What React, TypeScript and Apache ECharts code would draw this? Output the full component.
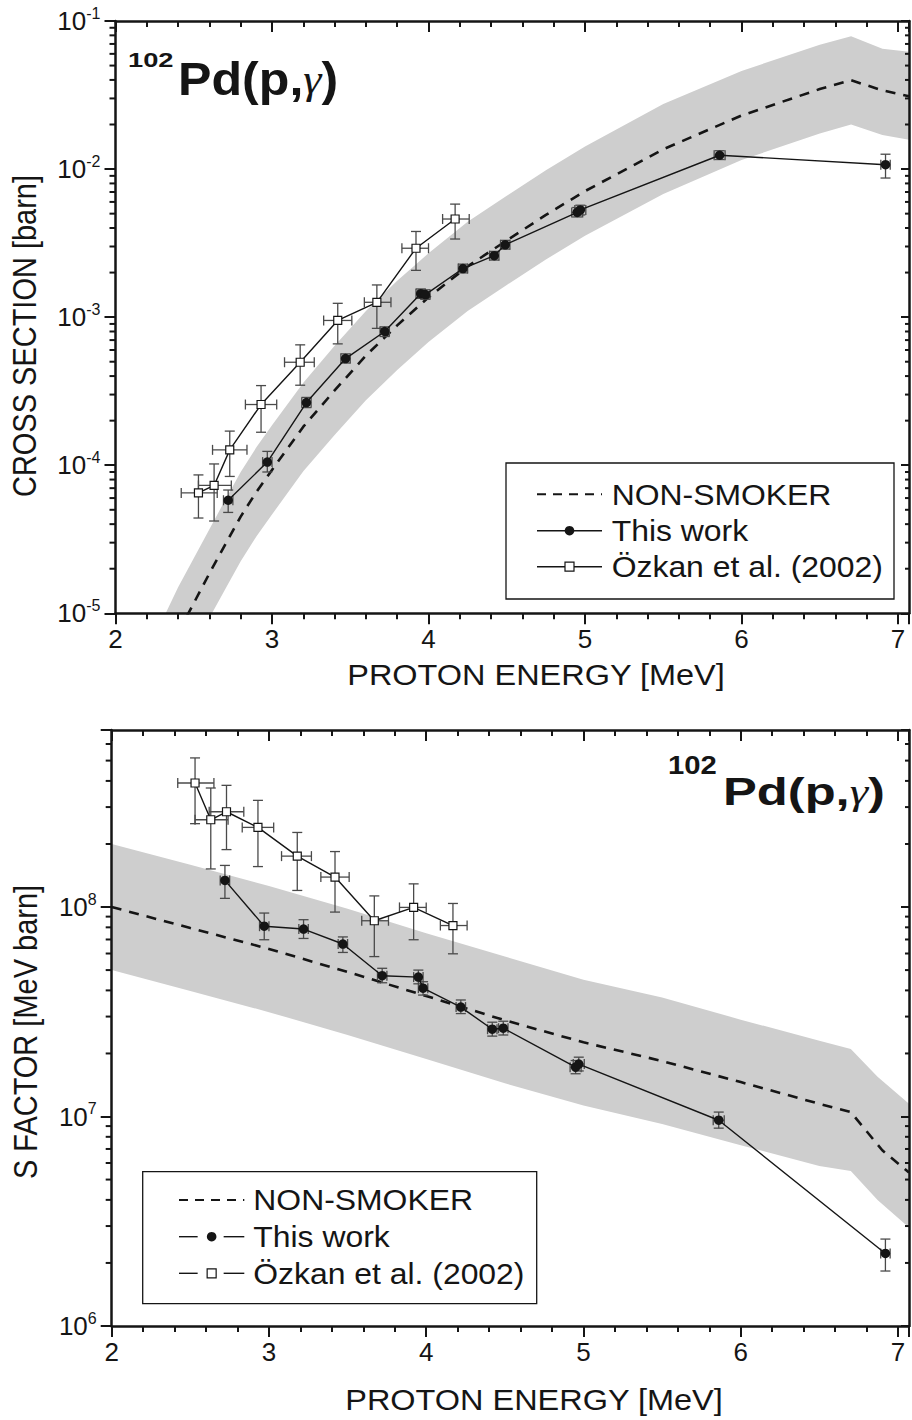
import React, { useEffect, useRef } from "react";
import * as echarts from "echarts";

const FONT = '"Liberation Sans", Arial, Helvetica, sans-serif';
const SERIF = '"Liberation Serif", "Times New Roman", serif';
const INK = "#151515";
const BAND = "#cecece";
const ERR_GREY = "#4a4a4a";

// ---------- axes ----------
const energyMin = 2;
const energyMax = 7.07;
const energyTicks = [2, 3, 4, 5, 6, 7];
const csMin = 1e-5;
const csMax = 1e-1;
const sMin = 1e6;
const sMax = 7e8;
const minorMantissas = [2, 3, 4, 5, 6, 7, 8, 9];
const csMinorDecades = [-5, -4, -3, -2];
const sMinorDecades = [6, 7, 8];

// ---------- top panel: cross section [barn] ----------
const csTheoryE = [2.3, 2.4, 2.5, 2.6, 2.7, 2.8, 2.9, 3.0, 3.2, 3.4, 3.6, 3.8, 4.0, 4.25, 4.5, 4.75, 5.0, 5.5, 6.0, 6.5, 6.7, 6.9, 7.07];
const csTheory = [4.5e-6, 7.4e-6, 1.17e-5, 1.86e-5, 2.9e-5, 4.5e-5, 6.6e-5, 9.3e-5, 1.82e-4, 3.2e-4, 5.5e-4, 8.8e-4, 1.36e-3, 2.2e-3, 3.3e-3, 4.9e-3, 7.1e-3, 1.36e-2, 2.3e-2, 3.47e-2, 3.98e-2, 3.4e-2, 3.1e-2];
const csBandHigh = [9.0e-6, 1.5e-5, 2.35e-5, 3.7e-5, 5.8e-5, 9.0e-5, 1.32e-4, 1.86e-4, 3.6e-4, 6.4e-4, 1.1e-3, 1.76e-3, 2.7e-3, 4.4e-3, 6.6e-3, 9.8e-3, 1.42e-2, 2.75e-2, 4.6e-2, 6.9e-2, 7.9e-2, 6.5e-2, 6.2e-2];
const csBandLow = [2.25e-6, 3.7e-6, 5.9e-6, 9.3e-6, 1.45e-5, 2.25e-5, 3.3e-5, 4.65e-5, 9.1e-5, 1.6e-4, 2.75e-4, 4.4e-4, 6.8e-4, 1.1e-3, 1.65e-3, 2.45e-3, 3.55e-3, 6.8e-3, 1.15e-2, 1.74e-2, 2.0e-2, 1.7e-2, 1.58e-2];

const thisWorkE = [2.72, 2.97, 3.22, 3.47, 3.72, 3.95, 3.98, 4.22, 4.42, 4.49, 4.95, 4.97, 5.86, 6.92];
const thisWorkEErr = [0.03, 0.03, 0.03, 0.03, 0.03, 0.03, 0.03, 0.03, 0.03, 0.03, 0.035, 0.035, 0.035, 0.03];
const csThisWork = [5.8e-5, 1.05e-4, 2.65e-4, 5.25e-4, 8.0e-4, 1.44e-3, 1.42e-3, 2.13e-3, 2.6e-3, 3.08e-3, 5.1e-3, 5.3e-3, 1.24e-2, 1.07e-2];
const csThisWorkLow = [4.8e-5, 9.0e-5, 2.45e-4, 4.9e-4, 7.4e-4, 1.34e-3, 1.32e-3, 1.99e-3, 2.43e-3, 2.88e-3, 4.75e-3, 4.9e-3, 1.16e-2, 8.7e-3];
const csThisWorkHigh = [6.8e-5, 1.24e-4, 2.87e-4, 5.65e-4, 8.6e-4, 1.55e-3, 1.53e-3, 2.28e-3, 2.78e-3, 3.3e-3, 5.5e-3, 5.7e-3, 1.33e-2, 1.26e-2];

const ozkanE = [2.53, 2.63, 2.73, 2.93, 3.18, 3.42, 3.67, 3.92, 4.17];
const ozkanELow = [2.42, 2.53, 2.62, 2.83, 3.08, 3.33, 3.59, 3.83, 4.09];
const ozkanEHigh = [2.65, 2.74, 2.84, 3.03, 3.27, 3.51, 3.76, 4.0, 4.26];
const csOzkan = [6.5e-5, 7.3e-5, 1.27e-4, 2.57e-4, 4.96e-4, 9.5e-4, 1.26e-3, 2.92e-3, 4.6e-3];
const csOzkanLow = [4.4e-5, 4.2e-5, 8.4e-5, 1.67e-4, 3.47e-4, 6.6e-4, 8.4e-4, 2.07e-3, 3.37e-3];
const csOzkanHigh = [8.6e-5, 1.02e-4, 1.7e-4, 3.45e-4, 6.5e-4, 1.24e-3, 1.65e-3, 3.79e-3, 5.8e-3];

// ---------- bottom panel: S factor [MeV barn] ----------
const sTheoryE = [2.0, 2.5, 3.0, 3.5, 4.0, 4.5, 5.0, 5.5, 6.0, 6.5, 6.7, 6.9, 7.07];
const sTheory = [1.0e8, 7.94e7, 6.31e7, 4.9e7, 3.76e7, 2.88e7, 2.26e7, 1.84e7, 1.46e7, 1.15e7, 1.05e7, 6.9e6, 5.4e6];
const sBandE = [2.0, 2.5, 3.0, 3.5, 4.0, 4.5, 5.0, 5.5, 6.0, 6.5, 6.7, 6.87, 7.07];
const sBandHigh = [2.0e8, 1.59e8, 1.26e8, 9.8e7, 7.5e7, 5.8e7, 4.5e7, 3.7e7, 2.9e7, 2.3e7, 2.1e7, 1.55e7, 1.15e7];
const sBandLow = [5.0e7, 3.97e7, 3.15e7, 2.45e7, 1.88e7, 1.44e7, 1.13e7, 9.2e6, 7.3e6, 5.8e6, 5.5e6, 4.0e6, 2.95e6];

const sThisWork = [1.34e8, 8.1e7, 7.85e7, 6.66e7, 4.7e7, 4.63e7, 4.1e7, 3.33e7, 2.61e7, 2.64e7, 1.72e7, 1.78e7, 9.6e6, 2.22e6];
const sThisWorkLow = [1.1e8, 6.98e7, 7.08e7, 6.07e7, 4.35e7, 4.3e7, 3.8e7, 3.1e7, 2.42e7, 2.45e7, 1.6e7, 1.65e7, 8.8e6, 1.83e6];
const sThisWorkHigh = [1.58e8, 9.36e7, 8.7e7, 7.2e7, 5.1e7, 5.0e7, 4.4e7, 3.6e7, 2.82e7, 2.85e7, 1.85e7, 1.92e7, 1.05e7, 2.6e6];

const sOzkan = [3.91e8, 2.61e8, 2.85e8, 2.4e8, 1.75e8, 1.39e8, 8.6e7, 9.96e7, 8.16e7];
const sOzkanLow = [2.5e8, 1.52e8, 1.88e8, 1.56e8, 1.2e8, 9.46e7, 5.8e7, 6.98e7, 5.98e7];
const sOzkanHigh = [5.15e8, 3.7e8, 3.81e8, 3.23e8, 2.27e8, 1.84e8, 1.13e8, 1.29e8, 1.04e8];

// ---------- texts ----------
const legendLabels = ["NON-SMOKER", "This work", "Özkan et al. (2002)"];
const xName = "PROTON ENERGY [MeV]";
const yNameTop = "CROSS SECTION [barn]";
const yNameBottom = "S FACTOR [MeV barn]";

// ---------- helpers ----------
const powLabel = (v: number) => {
  const e = Math.log10(v);
  const r = Math.round(e);
  return Math.abs(e - r) < 1e-6 ? `{b|10}{s|${r}}` : "";
};
const powRich = {
  b: { fontSize: 26, fontFamily: FONT, color: INK, lineHeight: 32 },
  s: { fontSize: 16, fontFamily: FONT, color: INK, lineHeight: 24, verticalAlign: "top" },
};
const axisLine = { show: true, onZero: false, lineStyle: { color: INK, width: 2.5 } };
const tickStyle = { color: INK, width: 2 };

function xAxesFor(grid: number) {
  const base = {
    gridIndex: grid,
    type: "value",
    min: energyMin,
    max: energyMax,
    interval: 1,
    z: 10,
    axisLine,
    splitLine: { show: false },
    minorSplitLine: { show: false },
  };
  return [
    {
      ...base,
      position: "bottom",
      axisTick: { show: true, length: 11, lineStyle: tickStyle },
      minorTick: { show: true, splitNumber: 5, length: 6, lineStyle: tickStyle },
      axisLabel: {
        show: true,
        fontSize: 26,
        fontFamily: FONT,
        color: INK,
        margin: 13,
        formatter: (v: number) => (energyTicks.includes(v) ? String(v) : ""),
      },
    },
    {
      ...base,
      position: "top",
      axisTick: { show: true, inside: true, length: 11, lineStyle: tickStyle },
      minorTick: { show: true, splitNumber: 5, length: 6, lineStyle: tickStyle },
      axisLabel: { show: false },
    },
  ];
}

function yAxesFor(grid: number, min: number, max: number) {
  const base = {
    gridIndex: grid,
    type: "log",
    logBase: 10,
    min,
    max,
    z: 10,
    axisLine,
    splitLine: { show: false },
  };
  return [
    {
      ...base,
      position: "left",
      axisTick: { show: true, length: 11, lineStyle: tickStyle },
      axisLabel: { show: true, margin: 15, formatter: powLabel, rich: powRich },
    },
    {
      ...base,
      position: "right",
      axisTick: { show: true, inside: true, length: 8, lineStyle: tickStyle },
      axisLabel: { show: false },
    },
  ];
}

function bandSeries(xi: number, yi: number, E: number[], lo: number[], hi: number[]) {
  return {
    type: "custom",
    xAxisIndex: xi,
    yAxisIndex: yi,
    clip: true,
    silent: true,
    z: 1,
    data: [[E[0], hi[0]]],
    encode: { x: 0, y: 1 },
    renderItem: (_p: any, api: any) => {
      const pts: number[][] = [];
      for (let i = 0; i < E.length; i++) pts.push(api.coord([E[i], hi[i]]));
      for (let i = E.length - 1; i >= 0; i--) pts.push(api.coord([E[i], lo[i]]));
      return { type: "polygon", shape: { points: pts }, style: { fill: BAND, stroke: null } };
    },
  };
}

function errorSeries(
  xi: number, yi: number, E: number[], v: number[], lo: number[], hi: number[],
  eLo: number[], eHi: number[], color: string, cap: number, z: number
) {
  return {
    type: "custom",
    xAxisIndex: xi,
    yAxisIndex: yi,
    silent: true,
    z,
    data: E.map((e, i) => [e, v[i], lo[i], hi[i], eLo[i], eHi[i]]),
    encode: { x: 0, y: 1 },
    renderItem: (_p: any, api: any) => {
      const e = api.value(0), val = api.value(1);
      const pLo = api.coord([e, api.value(2)]);
      const pHi = api.coord([e, api.value(3)]);
      const pL = api.coord([api.value(4), val]);
      const pR = api.coord([api.value(5), val]);
      const style = { stroke: color, lineWidth: 1.3, fill: null };
      const ln = (x1: number, y1: number, x2: number, y2: number) => ({ type: "line", shape: { x1, y1, x2, y2 }, style });
      return {
        type: "group",
        children: [
          ln(pLo[0], pLo[1], pHi[0], pHi[1]),
          ln(pLo[0] - cap, pLo[1], pLo[0] + cap, pLo[1]),
          ln(pHi[0] - cap, pHi[1], pHi[0] + cap, pHi[1]),
          ln(pL[0], pL[1], pR[0], pR[1]),
          ln(pL[0], pL[1] - cap, pL[0], pL[1] + cap),
          ln(pR[0], pR[1] - cap, pR[0], pR[1] + cap),
        ],
      };
    },
  };
}

function minorTickSeries(xi: number, yi: number, decades: number[], maxVal: number) {
  const vals: number[] = [];
  decades.forEach((d) => minorMantissas.forEach((m) => {
    const v = m * Math.pow(10, d);
    if (v < maxVal * 0.95) vals.push(v);
  }));
  return {
    type: "custom",
    xAxisIndex: xi,
    yAxisIndex: yi,
    silent: true,
    z: 20,
    data: vals.map((v) => [energyMin, v]),
    encode: { x: 0, y: 1 },
    renderItem: (params: any, api: any) => {
      const p = api.coord([api.value(0), api.value(1)]);
      const cs = params.coordSys;
      const style = { stroke: INK, lineWidth: 2 };
      return {
        type: "group",
        children: [
          { type: "line", shape: { x1: cs.x - 6, y1: p[1], x2: cs.x, y2: p[1] }, style },
          { type: "line", shape: { x1: cs.x + cs.width - 4, y1: p[1], x2: cs.x + cs.width, y2: p[1] }, style },
        ],
      };
    },
  };
}

function pairs(E: number[], v: number[]) {
  return E.map((e, i) => [e, v[i]]);
}

function theoryLine(xi: number, yi: number, E: number[], v: number[]) {
  return {
    type: "line",
    name: legendLabels[0],
    xAxisIndex: xi,
    yAxisIndex: yi,
    data: pairs(E, v),
    symbol: "none",
    z: 3,
    silent: true,
    lineStyle: { color: INK, width: 2.6, type: [10, 8] },
  };
}

function thisWorkLine(xi: number, yi: number, v: number[]) {
  return {
    type: "line",
    name: legendLabels[1],
    xAxisIndex: xi,
    yAxisIndex: yi,
    data: pairs(thisWorkE, v),
    symbol: "circle",
    symbolSize: 9.5,
    z: 6,
    silent: true,
    itemStyle: { color: INK },
    lineStyle: { color: INK, width: 1.4 },
  };
}

function ozkanLine(xi: number, yi: number, v: number[]) {
  return {
    type: "line",
    name: legendLabels[2],
    xAxisIndex: xi,
    yAxisIndex: yi,
    data: pairs(ozkanE, v),
    symbol: "rect",
    symbolSize: 8,
    z: 5,
    silent: true,
    itemStyle: { color: "#ffffff", borderColor: INK, borderWidth: 1.2 },
    lineStyle: { color: INK, width: 1.4 },
  };
}

const thisWorkELow = thisWorkE.map((e, i) => e - thisWorkEErr[i]);
const thisWorkEHigh = thisWorkE.map((e, i) => e + thisWorkEErr[i]);

function legendGraphic(box: { x: number; y: number; w: number; h: number }, symX0: number, symX1: number,
  textX: number, rows: number[], split: boolean) {
  const mid = (symX0 + symX1) / 2;
  const els: any[] = [
    { type: "rect", shape: { x: box.x, y: box.y, width: box.w, height: box.h }, style: { fill: "#fff", stroke: INK, lineWidth: 1.3 }, z: 50 },
    { type: "line", shape: { x1: symX0, y1: rows[0], x2: symX1, y2: rows[0] }, style: { stroke: INK, lineWidth: 2, lineDash: [9, 7] }, z: 51 },
  ];
  [1, 2].forEach((k) => {
    const y = rows[k];
    if (split) {
      els.push({ type: "line", shape: { x1: symX0, y1: y, x2: mid - 14, y2: y }, style: { stroke: INK, lineWidth: 1.4 }, z: 51 });
      els.push({ type: "line", shape: { x1: mid + 12, y1: y, x2: symX1, y2: y }, style: { stroke: INK, lineWidth: 1.4 }, z: 51 });
    } else {
      els.push({ type: "line", shape: { x1: symX0, y1: y, x2: symX1, y2: y }, style: { stroke: INK, lineWidth: 1.4 }, z: 51 });
    }
    if (k === 1) {
      els.push({ type: "circle", shape: { cx: mid, cy: y, r: 4.8 }, style: { fill: INK }, z: 52 });
    } else {
      els.push({ type: "rect", shape: { x: mid - 4.5, y: y - 4.5, width: 9, height: 9 }, style: { fill: "#fff", stroke: INK, lineWidth: 1.2 }, z: 52 });
    }
  });
  rows.forEach((y, k) => {
    els.push({
      type: "text", x: textX, y, scaleX: 1.1, z: 52,
      style: { text: legendLabels[k], fontSize: 29, fontFamily: FONT, fill: INK, textAlign: "left", textVerticalAlign: "middle" },
    });
  });
  return els;
}

function titleGraphic(supX: number, supY: number, supSize: number, supScale: number,
  mainX: number, mainY: number, mainSize: number, mainScale: number) {
  return [
    {
      type: "text", x: supX, y: supY, scaleX: supScale, z: 60,
      style: { text: "102", fontSize: supSize, fontWeight: "bold", fontFamily: FONT, fill: INK, textAlign: "left", textVerticalAlign: "middle" },
    },
    {
      type: "text", x: mainX, y: mainY, scaleX: mainScale, z: 60,
      style: {
        text: "{b|Pd(p,}{g|γ}{b|)}",
        textAlign: "left",
        textVerticalAlign: "middle",
        rich: {
          b: { fontSize: mainSize, fontWeight: "bold", fontFamily: FONT, fill: INK, lineHeight: mainSize * 1.2 },
          g: { fontSize: mainSize * 0.92, fontStyle: "italic", fontFamily: SERIF, fill: INK, lineHeight: mainSize * 1.2 },
        },
      },
    },
  ];
}

function axisNameGraphic() {
  const common = { fontSize: 29, fontFamily: FONT, fill: INK, textAlign: "center", textVerticalAlign: "middle" };
  return [
    { type: "text", x: 536, y: 675, scaleX: 1.12, z: 60, style: { ...common, text: xName } },
    { type: "text", x: 534, y: 1400, scaleX: 1.12, z: 60, style: { ...common, text: xName } },
    { type: "text", x: 25, y: 336, rotation: Math.PI / 2, scaleY: 1.12, z: 60, style: { ...common, text: yNameTop } },
    { type: "text", x: 26, y: 1032, rotation: Math.PI / 2, scaleY: 1.12, z: 60, style: { ...common, text: yNameBottom } },
  ];
}

export default function App() {
  const ref = useRef<HTMLDivElement>(null);
  useEffect(() => {
    if (!ref.current) return;
    const chart = echarts.init(ref.current, undefined, { renderer: "svg" });
    const option: any = {
      animation: false,
      backgroundColor: "#ffffff",
      grid: [
        { left: 115.5, top: 21, right: 1, bottom: 806.7, containLabel: false },
        { left: 111.7, top: 730, right: 1, bottom: 94, containLabel: false },
      ],
      xAxis: [...xAxesFor(0), ...xAxesFor(1)],
      yAxis: [...yAxesFor(0, csMin, csMax), ...yAxesFor(1, sMin, sMax)],
      series: [
        // top panel
        bandSeries(0, 0, csTheoryE, csBandLow, csBandHigh),
        theoryLine(0, 0, csTheoryE, csTheory),
        errorSeries(0, 0, ozkanE, csOzkan, csOzkanLow, csOzkanHigh, ozkanELow, ozkanEHigh, ERR_GREY, 5, 4),
        ozkanLine(0, 0, csOzkan),
        errorSeries(0, 0, thisWorkE, csThisWork, csThisWorkLow, csThisWorkHigh, thisWorkELow, thisWorkEHigh, ERR_GREY, 5, 4),
        thisWorkLine(0, 0, csThisWork),
        minorTickSeries(0, 0, csMinorDecades, csMax),
        // bottom panel
        bandSeries(2, 2, sBandE, sBandLow, sBandHigh),
        theoryLine(2, 2, sTheoryE, sTheory),
        errorSeries(2, 2, ozkanE, sOzkan, sOzkanLow, sOzkanHigh, ozkanELow, ozkanEHigh, ERR_GREY, 5, 4),
        ozkanLine(2, 2, sOzkan),
        errorSeries(2, 2, thisWorkE, sThisWork, sThisWorkLow, sThisWorkHigh, thisWorkELow, thisWorkEHigh, ERR_GREY, 5, 4),
        thisWorkLine(2, 2, sThisWork),
        minorTickSeries(2, 2, sMinorDecades, sMax),
      ],
      graphic: [
        ...titleGraphic(128, 60, 21, 1.3, 178, 79, 46, 1.09),
        ...titleGraphic(668, 765, 25, 1.17, 723, 792, 39, 1.3),
        ...legendGraphic({ x: 506, y: 463, w: 388, h: 136 }, 537, 602, 611.7, [494.3, 530.7, 566.7], false),
        ...legendGraphic({ x: 142.7, y: 1171.7, w: 394, h: 132 }, 179, 244.3, 253.3, [1200, 1236.7, 1273.3], true),
        ...axisNameGraphic(),
      ],
    };
    chart.setOption(option);
    return () => chart.dispose();
  }, []);
  return (
    <div
      ref={ref}
      style={{ position: "absolute", left: 0, top: 0, width: 912, height: 1420, background: "#fff" }}
    />
  );
}
